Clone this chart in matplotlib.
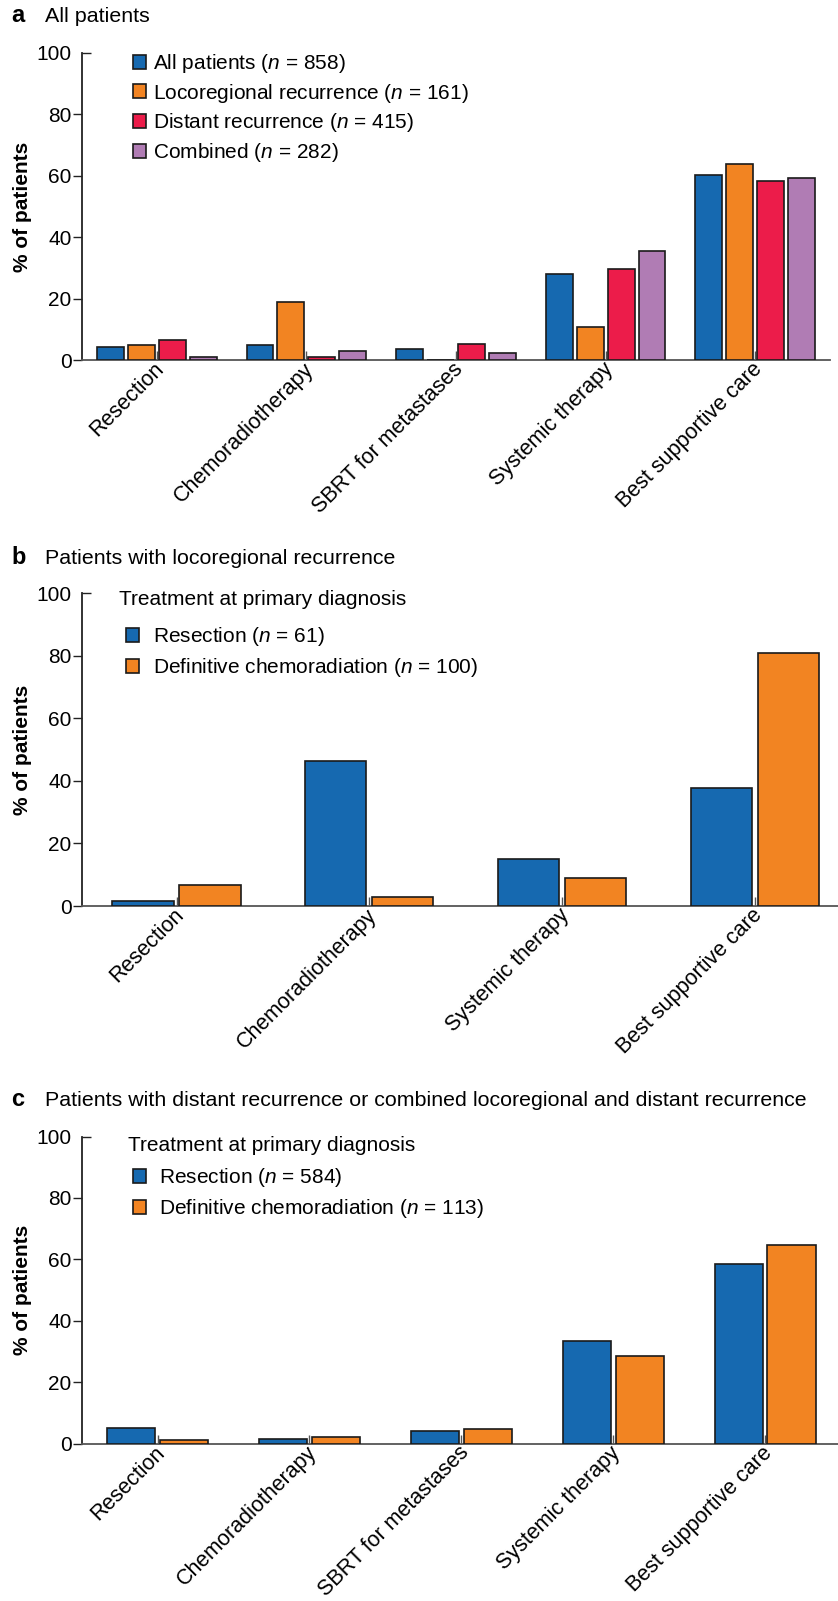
import matplotlib
matplotlib.use("Agg")
import matplotlib.pyplot as plt
from matplotlib.patches import Patch
from matplotlib.transforms import ScaledTranslation
import numpy as np

plt.rcParams['font.family'] = ['Liberation Sans', 'DejaVu Sans']
plt.rcParams['mathtext.fontset'] = 'custom'
plt.rcParams['mathtext.it'] = 'Liberation Sans:italic'
plt.rcParams['mathtext.rm'] = 'Liberation Sans'

# ---- data -------------------------------------------------------------
cats_a = ['Resection', 'Chemoradiotherapy', 'SBRT for metastases',
          'Systemic therapy', 'Best supportive care']
all_patients = [4.3, 4.8, 3.5, 28.0, 60.3]
locoregional = [4.8, 19.0, 0.0, 10.9, 63.8]
distant = [6.5, 0.9, 5.2, 29.6, 58.4]
combined = [0.9, 2.8, 2.2, 35.4, 59.3]
names_a = ['All patients', 'Locoregional recurrence', 'Distant recurrence', 'Combined']
n_a = [858, 161, 415, 282]

cats_b = ['Resection', 'Chemoradiotherapy', 'Systemic therapy', 'Best supportive care']
loco_resection = [1.7, 46.2, 15.1, 37.6]
loco_chemorad = [6.8, 2.8, 8.8, 80.7]
n_b = [61, 100]

cats_c = ['Resection', 'Chemoradiotherapy', 'SBRT for metastases',
          'Systemic therapy', 'Best supportive care']
dist_resection = [5.1, 1.6, 4.0, 33.4, 58.5]
dist_chemorad = [1.0, 2.0, 4.6, 28.5, 64.8]
n_c = [584, 113]

treat_names = ['Resection', 'Definitive chemoradiation']
yticks = [0, 20, 40, 60, 80, 100]

# ---- style ------------------------------------------------------------
BLUE = '#1669B0'
ORANGE = '#F28422'
RED = '#EC1C4A'
PURPLE = '#B07CB4'
EDGE = '#1a1a1a'
FS = 15
FS_X = 15.5

W, H = 838, 1601
fig = plt.figure(figsize=(W / 100, H / 100), dpi=100)


def rect(left, right, top, bottom):
    return [left / W, 1 - bottom / H, (right - left) / W, (bottom - top) / H]


def label(name, n):
    return f'{name} ($\\mathit{{n}}$ = {n})'


def style_axes(ax, cats, xlim):
    ax.set_xlim(*xlim)
    ax.set_ylim(0, 100)
    for s in ('top', 'right'):
        ax.spines[s].set_visible(False)
    ax.spines['left'].set_linewidth(1.3)
    ax.spines['left'].set_color('#222222')
    ax.spines['bottom'].set_linewidth(1.3)
    ax.spines['bottom'].set_color('#555555')
    # y ticks: outward below 100, inward tick at 100
    ax.set_yticks(yticks[:-1])
    ax.set_yticks([yticks[-1]], labels=[str(yticks[-1])], minor=True)
    ax.tick_params(axis='y', which='major', direction='out', length=6.5,
                   width=1.0, color='#222222', labelsize=FS, pad=1)
    ax.tick_params(axis='y', which='minor', direction='in', length=6.5,
                   width=1.0, color='#222222', labelsize=FS, pad=7.5)
    ax.set_xticks(np.arange(len(cats)))
    ax.set_xticklabels(cats, rotation=45, ha='right', va='center',
                       rotation_mode='anchor', fontsize=FS_X)
    ax.tick_params(axis='x', direction='in', length=6.5, width=1.0,
                   color='#555555', pad=4.5)
    shift = ScaledTranslation(4 / 100, 0, fig.dpi_scale_trans)
    for t in ax.get_xticklabels():
        t.set_transform(t.get_transform() + shift)
    ax.set_ylabel('% of patients', fontsize=FS, fontweight='bold')


def draw_group_bars(ax, series, colors, width, offsets):
    x = np.arange(len(series[0]))
    for vals, col, off in zip(series, colors, offsets):
        ax.bar(x + off, vals, width=width, color=col, edgecolor=EDGE,
               linewidth=1.2, zorder=3)


# ---- panel a ----------------------------------------------------------
ax_a = fig.add_axes(rect(82, 830, 53, 360))
draw_group_bars(ax_a, [all_patients, locoregional, distant, combined],
                [BLUE, ORANGE, RED, PURPLE], 0.18,
                [-0.31, -0.104, 0.104, 0.31])
style_axes(ax_a, cats_a, (-0.5, 4.5))
ax_a.yaxis.set_label_coords((32.5 - 82) / 748, 0.5)
handles_a = [Patch(facecolor=c, edgecolor=EDGE, linewidth=1.2)
             for c in (BLUE, ORANGE, RED, PURPLE)]
ax_a.legend(handles_a, [label(nm, n) for nm, n in zip(names_a, n_a)],
            loc='upper left', bbox_to_anchor=((132.7 - 82) / 748, (360 - 52) / 307),
            frameon=False, fontsize=FS, handlelength=0.65, handleheight=0.65,
            handletextpad=0.34, labelspacing=0.32, borderpad=0, borderaxespad=0)

# ---- panel b ----------------------------------------------------------
ax_b = fig.add_axes(rect(82, 838, 593, 906))
draw_group_bars(ax_b, [loco_resection, loco_chemorad], [BLUE, ORANGE],
                0.317, [-0.174, 0.174])
style_axes(ax_b, cats_b, (-0.49, 3.43))
ax_b.yaxis.set_label_coords((32.5 - 82) / 756, 0.5)
handles_b = [Patch(facecolor=c, edgecolor=EDGE, linewidth=1.2) for c in (BLUE, ORANGE)]
ax_b.text((119 - 82) / 756, (906 - 599) / 313, 'Treatment at primary diagnosis',
          transform=ax_b.transAxes, fontsize=FS, ha='left', va='center')
ax_b.legend(handles_b, [label(nm, n) for nm, n in zip(treat_names, n_b)],
            loc='upper left', bbox_to_anchor=((125.7 - 82) / 756, (906 - 625) / 313),
            frameon=False, fontsize=FS, handlelength=0.65, handleheight=0.65,
            handletextpad=0.68, labelspacing=0.38, borderpad=0, borderaxespad=0)

# ---- panel c ----------------------------------------------------------
ax_c = fig.add_axes(rect(82, 838, 1136.5, 1443.5))
draw_group_bars(ax_c, [dist_resection, dist_chemorad], [BLUE, ORANGE],
                0.318, [-0.174, 0.174])
style_axes(ax_c, cats_c, (-0.498, 4.48))
ax_c.yaxis.set_label_coords((32.5 - 82) / 756, 0.5)
handles_c = [Patch(facecolor=c, edgecolor=EDGE, linewidth=1.2) for c in (BLUE, ORANGE)]
ax_c.text((127.7 - 82) / 756, (1443.5 - 1145.5) / 307, 'Treatment at primary diagnosis',
          transform=ax_c.transAxes, fontsize=FS, ha='left', va='center')
ax_c.legend(handles_c, [label(nm, n) for nm, n in zip(treat_names, n_c)],
            loc='upper left', bbox_to_anchor=((132.7 - 82) / 756, (1443.5 - 1166) / 307),
            frameon=False, fontsize=FS, handlelength=0.65, handleheight=0.65,
            handletextpad=0.62, labelspacing=0.38, borderpad=0, borderaxespad=0)

# ---- panel headings ---------------------------------------------------
headings = [('a', 'All patients', 16),
            ('b', 'Patients with locoregional recurrence', 558),
            ('c', 'Patients with distant recurrence or combined locoregional and distant recurrence', 1100)]
for letter, text, yc in headings:
    fig.text(11 / W, 1 - yc / H, letter, fontsize=17, fontweight='bold',
             ha='left', va='center')
    fig.text(45 / W, 1 - yc / H, text, fontsize=15.4, ha='left', va='center')

fig.savefig('out.png', dpi=100)
